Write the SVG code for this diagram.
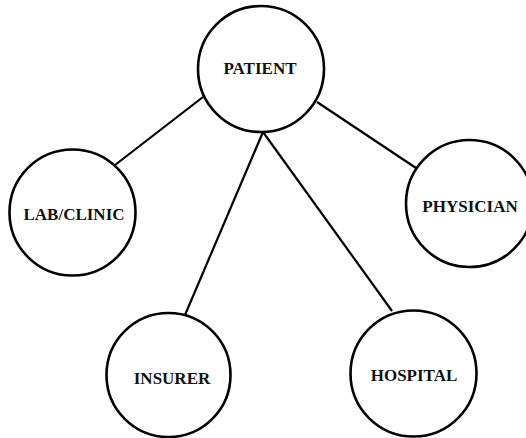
<svg xmlns="http://www.w3.org/2000/svg" width="526" height="438" viewBox="0 0 526 438">
<style>
.node circle{fill:#fff;stroke:#000;stroke-width:2.6}
.node text{font-family:"Liberation Serif","Times New Roman",serif;font-weight:bold;font-size:17px;fill:#111;text-anchor:middle}
.edges line{stroke:#000;stroke-width:2.2;stroke-linecap:butt}
</style>
<rect width="526" height="438" fill="#fff"/>
<g class="edges" id="connectors">
<line x1="203" y1="97" x2="115" y2="165"/>
<line x1="317" y1="102" x2="416" y2="168"/>
<line x1="263" y1="132" x2="185" y2="315"/>
<line x1="263" y1="132" x2="392" y2="311"/>
</g>
<g class="node" id="patient"><circle cx="261" cy="69" r="63"/><text x="260" y="74">PATIENT</text></g>
<g class="node" id="labclinic"><circle cx="72.5" cy="212.5" r="63"/><text x="74" y="220">LAB/CLINIC</text></g>
<g class="node" id="physician"><circle cx="469.5" cy="203.5" r="63.5"/><text x="470" y="211.5">PHYSICIAN</text></g>
<g class="node" id="insurer"><circle cx="168.5" cy="375" r="62"/><text x="172" y="384">INSURER</text></g>
<g class="node" id="hospital"><circle cx="413.5" cy="373.5" r="63"/><text x="414" y="381">HOSPITAL</text></g>
</svg>
